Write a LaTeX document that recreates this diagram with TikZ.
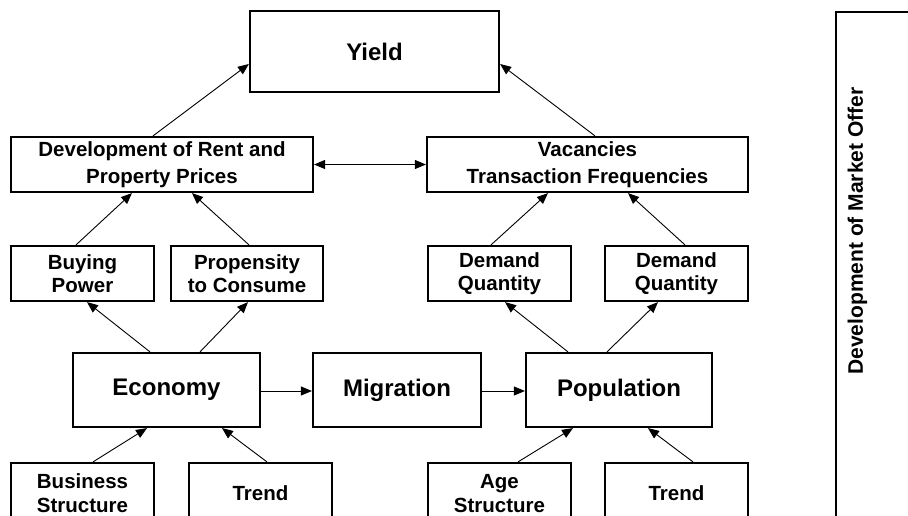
\documentclass[tikz,border=0pt]{standalone}
\usepackage{fontspec}
\setmainfont{Liberation Sans}
\usetikzlibrary{arrows.meta}
\begin{document}
\begin{tikzpicture}[x=1pt,y=-1pt,
  box/.style={draw,line width=2.2pt,rectangle,inner sep=0pt,align=center,
    font=\bfseries\fontsize{20.5}{23.5}\selectfont},
  bigbox/.style={box,font=\bfseries\fontsize{24}{28}\selectfont},
  widebox/.style={box,font=\bfseries\fontsize{20.5}{27}\selectfont},
  basebox/.style={box,font=\bfseries\fontsize{20.5}{24}\selectfont},
  link/.style={line width=0.9pt,-{Triangle[length=11pt,width=9pt]}},
  duallink/.style={line width=0.9pt,{Triangle[length=11pt,width=9pt]}-{Triangle[length=11pt,width=9pt]}},
]
\useasboundingbox (0,0) rectangle (908,515);
\clip (0,0) rectangle (908,515);

% top level
\node[bigbox,minimum width=249pt,minimum height=81pt] (yield) at (374.5,51.5) {Yield};

% second level
\node[widebox,minimum width=302pt,minimum height=55pt] (rent) at (162,164.5)
  {Development of Rent and\\Property Prices};
\node[widebox,minimum width=321pt,minimum height=55pt] (vac) at (587.5,164.5)
  {Vacancies\\Transaction Frequencies};

% third level
\node[box,minimum width=143pt,minimum height=55pt] (buy) at (82.5,273.5) {Buying\\Power};
\node[box,minimum width=152pt,minimum height=55pt] (prop) at (247,273.5) {Propensity\\to Consume};
\node[box,minimum width=143pt,minimum height=55pt] (dqa) at (499.5,273.5) {Demand\\Quantity};
\node[box,minimum width=143pt,minimum height=55pt] (dqb) at (676.5,273.5) {Demand\\Quantity};

% core drivers
\node[bigbox,minimum width=187pt,minimum height=74pt] (econ) at (166.5,390) {Economy};
\node[bigbox,minimum width=168pt,minimum height=74pt] (mig) at (397,390) {Migration};
\node[bigbox,minimum width=186pt,minimum height=74pt] (pop) at (619,390) {Population};

% bottom level (runs past the lower edge)
\node[basebox,minimum width=143pt,minimum height=61pt] (bus) at (82.5,493.5) {Business\\Structure};
\node[basebox,minimum width=143pt,minimum height=61pt] (trenda) at (260.5,493.5) {Trend};
\node[basebox,minimum width=143pt,minimum height=61pt] (age) at (499.5,493.5) {Age\\Structure};
\node[basebox,minimum width=143pt,minimum height=61pt] (trendb) at (676.5,493.5) {Trend};

% side panel
\node[draw,line width=2.2pt,rectangle,minimum width=120pt,minimum height=560pt,
  anchor=north west,inner sep=0pt] (market) at (835,11) {};
\node[rotate=90,inner sep=0pt,font=\bfseries\fontsize{21}{24}\selectfont]
  (marketlabel) at (857.5,231) {Development of Market Offer};

% connectors
\draw[link] ([xshift=-9pt]rent.north) -- ([yshift=-12.5pt]yield.west);
\draw[link] ([xshift=7.5pt]vac.north) -- ([yshift=-12.5pt]yield.east);
\draw[duallink] (rent.east) -- (vac.west);

\draw[link] ([xshift=-6.5pt]buy.north) -- ([xshift=-30pt]rent.south);
\draw[link] ([xshift=2pt]prop.north) -- ([xshift=30pt]rent.south);
\draw[link] ([xshift=-8.5pt]dqa.north) -- ([xshift=-39.5pt]vac.south);
\draw[link] ([xshift=8.5pt]dqb.north) -- ([xshift=40.5pt]vac.south);

\draw[link] ([xshift=-16.5pt]econ.north) -- ([xshift=4.5pt]buy.south);
\draw[link] ([xshift=33.5pt]econ.north) -- ([xshift=1pt]prop.south);
\draw[link] ([xshift=-51pt]pop.north) -- ([xshift=5.5pt]dqa.south);
\draw[link] ([xshift=-12pt]pop.north) -- ([xshift=-18.5pt]dqb.south);

\draw[link] ([yshift=-1pt]econ.east) -- ([yshift=-1pt]mig.west);
\draw[link] ([yshift=-1pt]mig.east) -- ([yshift=-1pt]pop.west);

\draw[link] ([xshift=10.5pt]bus.north) -- ([xshift=-19.5pt]econ.south);
\draw[link] ([xshift=6.5pt]trenda.north) -- ([xshift=55.5pt]econ.south);
\draw[link] ([xshift=18.5pt]age.north) -- ([xshift=-46pt]pop.south);
\draw[link] ([xshift=16.5pt]trendb.north) -- ([xshift=29pt]pop.south);
\end{tikzpicture}
\end{document}
